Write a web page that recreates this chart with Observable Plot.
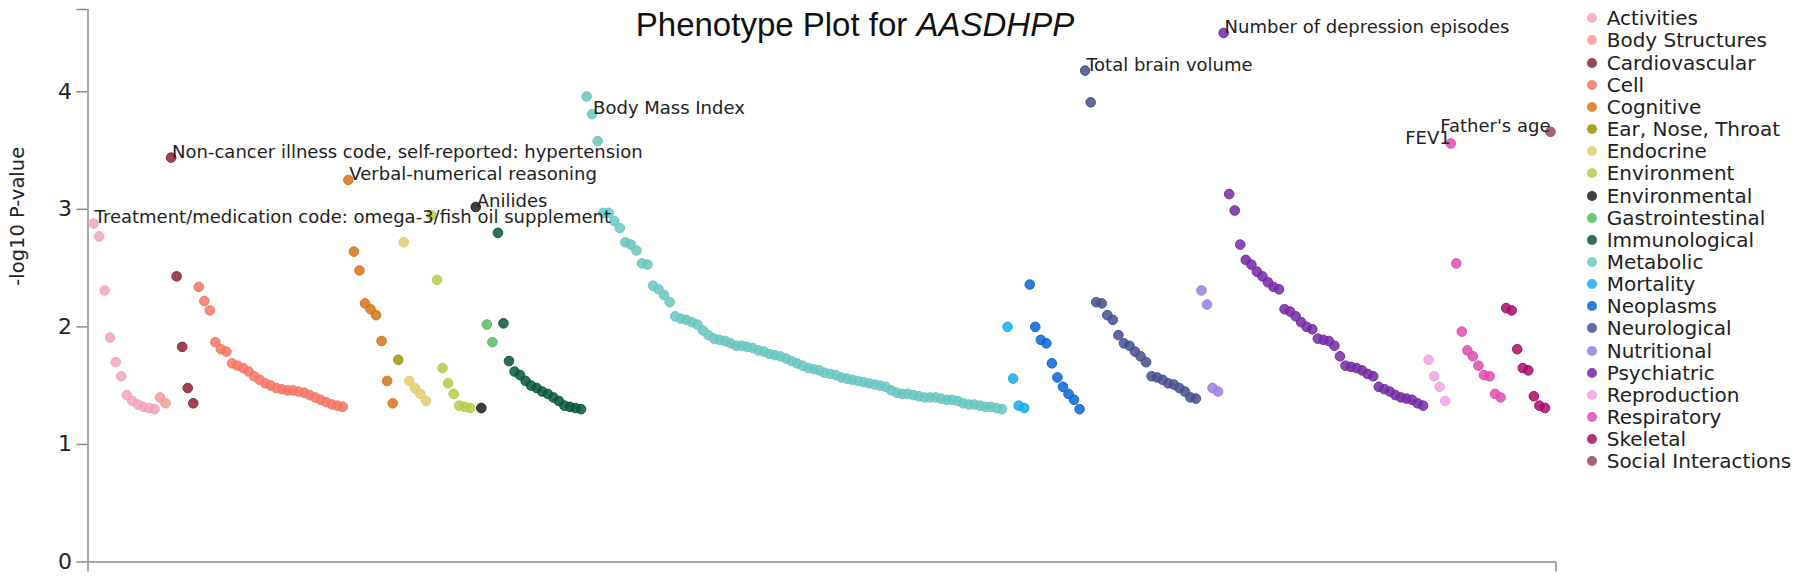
<!DOCTYPE html>
<html>
<head>
<meta charset="utf-8">
<script src="https://cdn.jsdelivr.net/npm/d3@7"></script>
<script src="https://cdn.jsdelivr.net/npm/@observablehq/plot@0.6"></script>
<style>
  html, body { margin: 0; padding: 0; background: #fff; }
  #wrap { position: relative; width: 1800px; height: 581px; overflow: hidden; }
  #title { position: absolute; left: 455px; width: 800px; top: 8px; text-align: center;
           font-family: "Liberation Sans", Arial, sans-serif; font-size: 33px; line-height: 33px; color: #111; }
  #legend { position: absolute; left: 1586.7px; top: 7.2px; font-family: "DejaVu Sans", sans-serif;
            font-size: 20px; color: #222; }
  .row { display: flex; align-items: center; height: 22.17px; white-space: nowrap; }
  .sw { width: 10px; height: 10px; border-radius: 50%; margin-right: 10px; flex: none; }
</style>
</head>
<body>
<div id="wrap">
  <div id="chart"></div>
  <div id="title">Phenotype Plot for <i>AASDHPP</i></div>
  <div id="legend"></div>
</div>
<script>
const categories = ["Activities","Body Structures","Cardiovascular","Cell","Cognitive","Ear, Nose, Throat","Endocrine","Environment","Environmental","Gastrointestinal","Immunological","Metabolic","Mortality","Neoplasms","Neurological","Nutritional","Psychiatric","Reproduction","Respiratory","Skeletal","Social Interactions"];
const colors = ["#f2a3c1","#f49c96","#8a2436","#f47565","#d4761a","#9e940c","#e2cc6c","#b5cc4a","#1e1e1e","#55bd63","#08573a","#68c6c1","#16ade8","#0a66d4","#44508e","#9a7ee2","#7629a4","#f4a2e4","#df4dae","#aa0c6c","#95495f"];

const activities = [2.88,2.77,2.31,1.91,1.70,1.58,1.42,1.37,1.34,1.32,1.31,1.30];
const bodyStructures = [1.40,1.35];
const cardiovascular = [3.44,2.43,1.83,1.48,1.35];
const cell = [2.34,2.22,2.14,1.87,1.81,1.79,1.69,1.67,1.65,1.62,1.58,1.55,1.52,1.50,1.48,1.47,1.46,1.46,1.45,1.44,1.42,1.40,1.38,1.36,1.34,1.33,1.32];
const cognitive = [3.25,2.64,2.48,2.20,2.15,2.10,1.88,1.54,1.35];
const earNoseThroat = [1.72];
const endocrine = [2.72,1.54,1.48,1.43,1.37];
const environment = [2.95,2.40,1.65,1.52,1.43,1.33,1.32,1.31];
const environmental = [3.02,1.31];
const gastrointestinal = [2.02,1.87];
const immunological = [2.80,2.03,1.71,1.62,1.59,1.54,1.50,1.48,1.45,1.43,1.40,1.37,1.33,1.32,1.31,1.30];
const metabolic = [3.96,3.81,3.58,2.97,2.97,2.90,2.84,2.72,2.70,2.65,2.54,2.53,2.35,2.32,2.27,2.21,2.09,2.07,2.06,2.04,2.02,1.97,1.93,1.90,1.89,1.88,1.86,1.84,1.84,1.83,1.82,1.80,1.79,1.77,1.76,1.75,1.73,1.71,1.69,1.67,1.65,1.64,1.63,1.61,1.60,1.59,1.57,1.56,1.55,1.54,1.53,1.52,1.51,1.50,1.49,1.46,1.44,1.43,1.43,1.42,1.41,1.40,1.40,1.40,1.39,1.38,1.38,1.37,1.35,1.34,1.34,1.33,1.32,1.32,1.31,1.30];
const mortality = [2.00,1.56,1.33,1.31];
const neoplasms = [2.36,2.00,1.89,1.86,1.69,1.57,1.49,1.43,1.38,1.30];
const neurological = [4.18,3.91,2.21,2.20,2.10,2.06,1.93,1.86,1.84,1.79,1.75,1.70,1.58,1.57,1.55,1.52,1.51,1.48,1.45,1.40,1.39];
const nutritional = [2.31,2.19,1.48,1.45];
const psychiatric = [4.50,3.13,2.99,2.70,2.57,2.53,2.47,2.43,2.38,2.34,2.32,2.15,2.13,2.09,2.04,2.00,1.98,1.90,1.89,1.88,1.84,1.75,1.67,1.66,1.65,1.63,1.60,1.58,1.49,1.47,1.45,1.42,1.40,1.39,1.38,1.35,1.33];
const reproduction = [1.72,1.58,1.49,1.37];
const respiratory = [3.56,2.54,1.96,1.80,1.75,1.67,1.59,1.58,1.43,1.40];
const skeletal = [2.16,2.14,1.81,1.65,1.63,1.41,1.33,1.31];
const socialInteractions = [3.66];

const seriesValues = [activities,bodyStructures,cardiovascular,cell,cognitive,earNoseThroat,endocrine,environment,environmental,gastrointestinal,immunological,metabolic,mortality,neoplasms,neurological,nutritional,psychiatric,reproduction,respiratory,skeletal,socialInteractions];

const labelTexts = ["Treatment/medication code: omega-3/fish oil supplement","Non-cancer illness code, self-reported: hypertension","Verbal-numerical reasoning","Anilides","Body Mass Index","Total brain volume","Number of depression episodes","FEV1","Father's age"];
const labelCategories = ["Activities","Cardiovascular","Cognitive","Environmental","Metabolic","Neurological","Psychiatric","Respiratory","Social Interactions"];
const labelRanks = [0,0,0,0,1,0,0,0,0];

const yTicks = [0,1,2,3,4];
const yTop = 4.7;
const yLabel = "-log10 P-value";

// build table
const rows = [];
let k = 0;
seriesValues.forEach((vals, c) => vals.forEach((v, j) => rows.push({idx: ++k, value: v, category: categories[c], rank: j})));
const N = rows.length;
const labels = labelTexts.map((t, i) => {
  const r = rows.find(d => d.category === labelCategories[i] && d.rank === labelRanks[i]);
  return {text: t, idx: r.idx, value: r.value};
});
const startLabels = labels.filter(d => d.idx < 0.9 * N);
const endLabels = labels.filter(d => d.idx >= 0.9 * N);

const axisGray = "#8a8a8a";
const chart = Plot.plot({
  width: 1800, height: 581,
  marginLeft: 87.5, marginRight: 244.5, marginTop: 9, marginBottom: 19.5,
  style: {fontFamily: "DejaVu Sans, sans-serif", fontSize: "21px", color: "#222", background: "white", overflow: "visible"},
  x: {domain: [0, N + 1], axis: null},
  y: {domain: [0, yTop], axis: null},
  color: {domain: categories, range: colors},
  marks: [
    Plot.ruleX([0], {stroke: axisGray, strokeWidth: 1.5}),
    Plot.ruleY([0], {stroke: axisGray, strokeWidth: 1.5}),
    Plot.axisY({ticks: yTicks, tickFormat: "d", tickSize: 11, tickPadding: 5, stroke: axisGray, strokeWidth: 1.5, fill: "#222", fontSize: 22, label: null}),
    Plot.axisY({ticks: [yTop], tickSize: 11, tickFormat: () => "", stroke: axisGray, strokeWidth: 1.5, label: null}),
    Plot.axisX({ticks: [0, N + 1], tickSize: 10, tickFormat: () => "", stroke: axisGray, strokeWidth: 1.5, label: null}),
    Plot.text([yLabel], {frameAnchor: "left", dx: -70, rotate: -90, fontSize: 19.5, fill: "#222"}),
    Plot.dot(rows, {x: "idx", y: "value", fill: "category", stroke: "category", r: 4.8, fillOpacity: 0.85, strokeOpacity: 0.95, strokeWidth: 1}),
    Plot.text(startLabels, {x: "idx", y: "value", text: "text", textAnchor: "start", lineAnchor: "bottom", dx: 1, fontSize: 18, fill: "#222"}),
    Plot.text(endLabels, {x: "idx", y: "value", text: "text", textAnchor: "end", lineAnchor: "bottom", dx: 0, fontSize: 18, fill: "#222"})
  ]
});
document.getElementById("chart").appendChild(chart);

const legend = document.getElementById("legend");
categories.forEach((c, i) => {
  const row = document.createElement("div");
  row.className = "row";
  const sw = document.createElement("span");
  sw.className = "sw";
  sw.style.background = colors[i];
  sw.style.opacity = 0.85;
  const tx = document.createElement("span");
  tx.textContent = c;
  row.appendChild(sw); row.appendChild(tx);
  legend.appendChild(row);
});
</script>
</body>
</html>
